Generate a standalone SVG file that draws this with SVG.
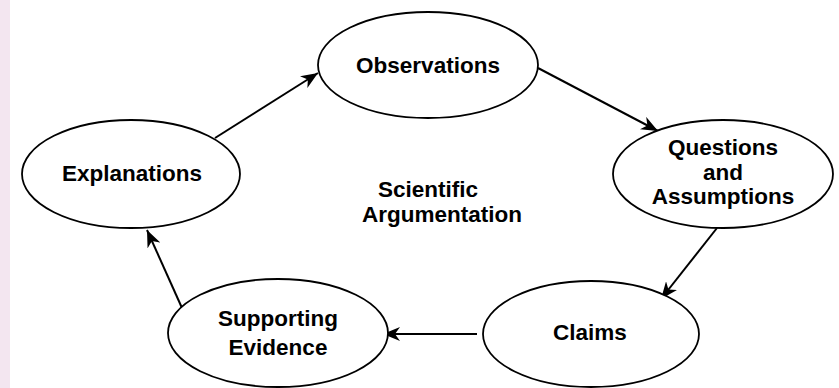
<svg xmlns="http://www.w3.org/2000/svg" width="839" height="388" viewBox="0 0 839 388">
<style>
.node ellipse{fill:#fff;stroke:#000;stroke-width:1.8}
text{font-family:"Liberation Sans",Arial,sans-serif;font-weight:bold;font-size:22.5px;fill:#000;text-anchor:middle}
.conn line{stroke:#000;stroke-width:2;marker-end:url(#ah)}
</style>
<defs>
<marker id="ah" markerUnits="userSpaceOnUse" markerWidth="18" markerHeight="14" refX="17" refY="7" orient="auto">
<path d="M0,0 L17,7 L0,14 L5,7 Z" fill="#000"/>
</marker>
</defs>
<rect x="0" y="0" width="839" height="388" fill="#fff"/>
<rect x="0" y="0" width="10" height="388" fill="#f3e6f0"/>
<g id="connectors" class="conn">
<line x1="215" y1="138" x2="318" y2="73"/>
<line x1="538" y1="68" x2="658" y2="131"/>
<line x1="717" y1="228" x2="661" y2="299"/>
<line x1="477" y1="334" x2="383" y2="334"/>
<line x1="182" y1="308" x2="147" y2="230"/>
</g>
<g id="observations" class="node"><ellipse cx="428" cy="65" rx="110" ry="53"/><text x="428" y="73">Observations</text></g>
<g id="questions" class="node"><ellipse cx="723" cy="174" rx="110" ry="54"/><text x="723" y="155">Questions</text><text x="723" y="180">and</text><text x="723" y="204">Assumptions</text></g>
<g id="claims" class="node"><ellipse cx="591" cy="334" rx="108" ry="53"/><text x="590" y="340">Claims</text></g>
<g id="supporting" class="node"><ellipse cx="278" cy="333" rx="110" ry="54"/><text x="278" y="326">Supporting</text><text x="278" y="355">Evidence</text></g>
<g id="explanations" class="node"><ellipse cx="131" cy="174" rx="109" ry="54"/><text x="132" y="181">Explanations</text></g>
<g id="center"><text x="428" y="197">Scientific</text><text x="442" y="222">Argumentation</text></g>
</svg>
